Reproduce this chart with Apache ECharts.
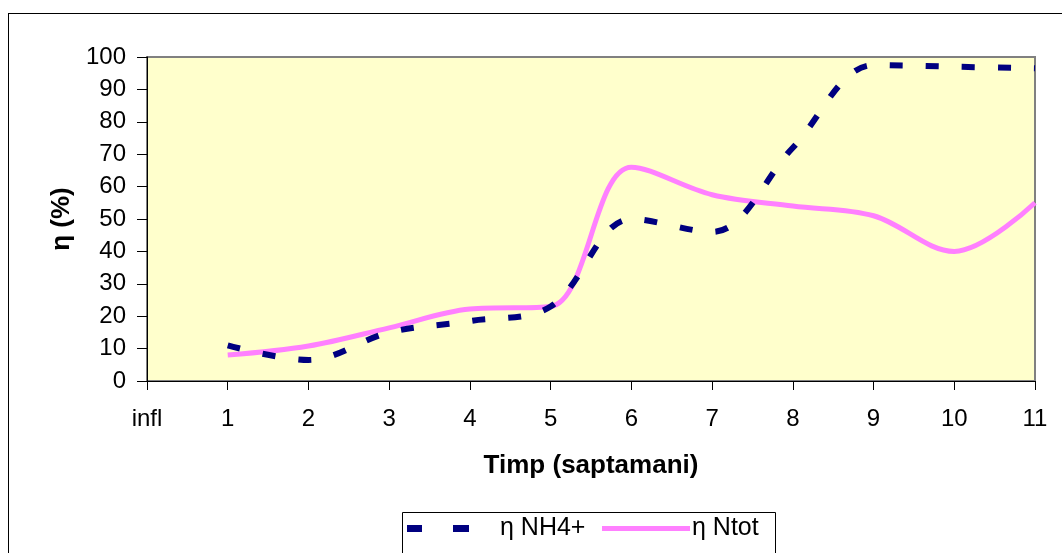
<!DOCTYPE html>
<html>
<head>
<meta charset="utf-8">
<script src="https://cdn.jsdelivr.net/npm/echarts@6/dist/echarts.min.js"></script>
<style>
  html, body { margin: 0; padding: 0; background: #fff; }
  #frame { position: absolute; left: 8px; top: 13px; width: 1060px; height: 545px; border: 1px solid #000; }
  #chart { position: absolute; left: 0; top: 0; width: 1062px; height: 553px; }
</style>
</head>
<body>
<div id="frame"></div>
<div id="chart"></div>
<script>
// saptamani (categorii pe axa X)
var weeks = ['infl', '1', '2', '3', '4', '5', '6', '7', '8', '9', '10', '11'];
// randament NH4+ (%)
var etaNH4 = [null, 11, 6.5, 15, 18.5, 23, 50, 46, 72, 97.5, 97, 96.5];
// randament Ntot (%)
var etaNtot = [null, 8, 10.8, 16.4, 22.2, 23, 66, 57.5, 54, 51, 40, 55];
var yTicks = [0, 100, 10];

var fontF = 'Liberation Sans, Arial, sans-serif';
var myChart = echarts.init(document.getElementById('chart'));

var option = {
  animation: false,
  textStyle: { fontFamily: fontF },
  grid: {
    left: 147, right: 27, top: 57, bottom: 172,
    show: true,
    backgroundColor: '#FFFFCC',
    borderColor: '#808080',
    borderWidth: 2
  },
  // cadrul legendei
  graphic: [{
    type: 'rect',
    left: 402, top: 512,
    shape: { width: 373, height: 60 },
    style: { fill: '#fff', stroke: '#000', lineWidth: 1 },
    z: 0
  }],
  legend: [
    {
      left: 407, top: 516,
      padding: 0,
      itemWidth: 62,
      itemHeight: 7,
      textStyle: { fontSize: 25, color: '#000', fontFamily: fontF, padding: [0, 0, 0, 26] },
      data: [{ name: 'η NH4+', icon: 'path://M0,0 h15 v7 h-15 z M46,0 h16 v7 h-16 z' }],
      z: 5
    },
    {
      left: 602, top: 516,
      padding: 0,
      itemWidth: 88,
      itemHeight: 5,
      textStyle: { fontSize: 25, color: '#000', fontFamily: fontF, padding: [0, 0, 0, -3] },
      data: [{ name: 'η Ntot', icon: 'rect' }],
      z: 5
    }
  ],
  xAxis: {
    type: 'category',
    data: weeks,
    boundaryGap: false,
    name: 'Timp (saptamani)',
    nameLocation: 'middle',
    nameGap: 72,
    nameTextStyle: { fontSize: 26, fontWeight: 'bold', color: '#000' },
    axisLine: { lineStyle: { color: '#000', width: 1 } },
    axisTick: { length: 9, lineStyle: { color: '#000' } },
    axisLabel: { fontSize: 24, color: '#000', margin: 26 }
  },
  yAxis: {
    type: 'value',
    min: yTicks[0], max: yTicks[1], interval: yTicks[2],
    name: 'η (%)',
    nameLocation: 'middle',
    nameGap: 72,
    nameTextStyle: { fontSize: 26, fontWeight: 'bold', color: '#000' },
    axisLine: { show: true, lineStyle: { color: '#000', width: 1 } },
    axisTick: { show: true, length: 10, lineStyle: { color: '#000' } },
    axisLabel: { fontSize: 24, color: '#000', margin: 21 },
    splitLine: { show: false }
  },
  series: [
    {
      name: 'η NH4+',
      type: 'line',
      data: etaNH4,
      smooth: 0.35,
      showSymbol: false,
      symbol: 'none',
      itemStyle: { color: '#000080' },
      lineStyle: { color: '#000080', width: 6, type: [13, 23] },
      z: 3
    },
    {
      name: 'η Ntot',
      type: 'line',
      data: etaNtot,
      smooth: 0.35,
      showSymbol: false,
      symbol: 'none',
      itemStyle: { color: '#FF80FF' },
      lineStyle: { color: '#FF80FF', width: 5 },
      z: 2
    }
  ]
};

myChart.setOption(option);
</script>
</body>
</html>
